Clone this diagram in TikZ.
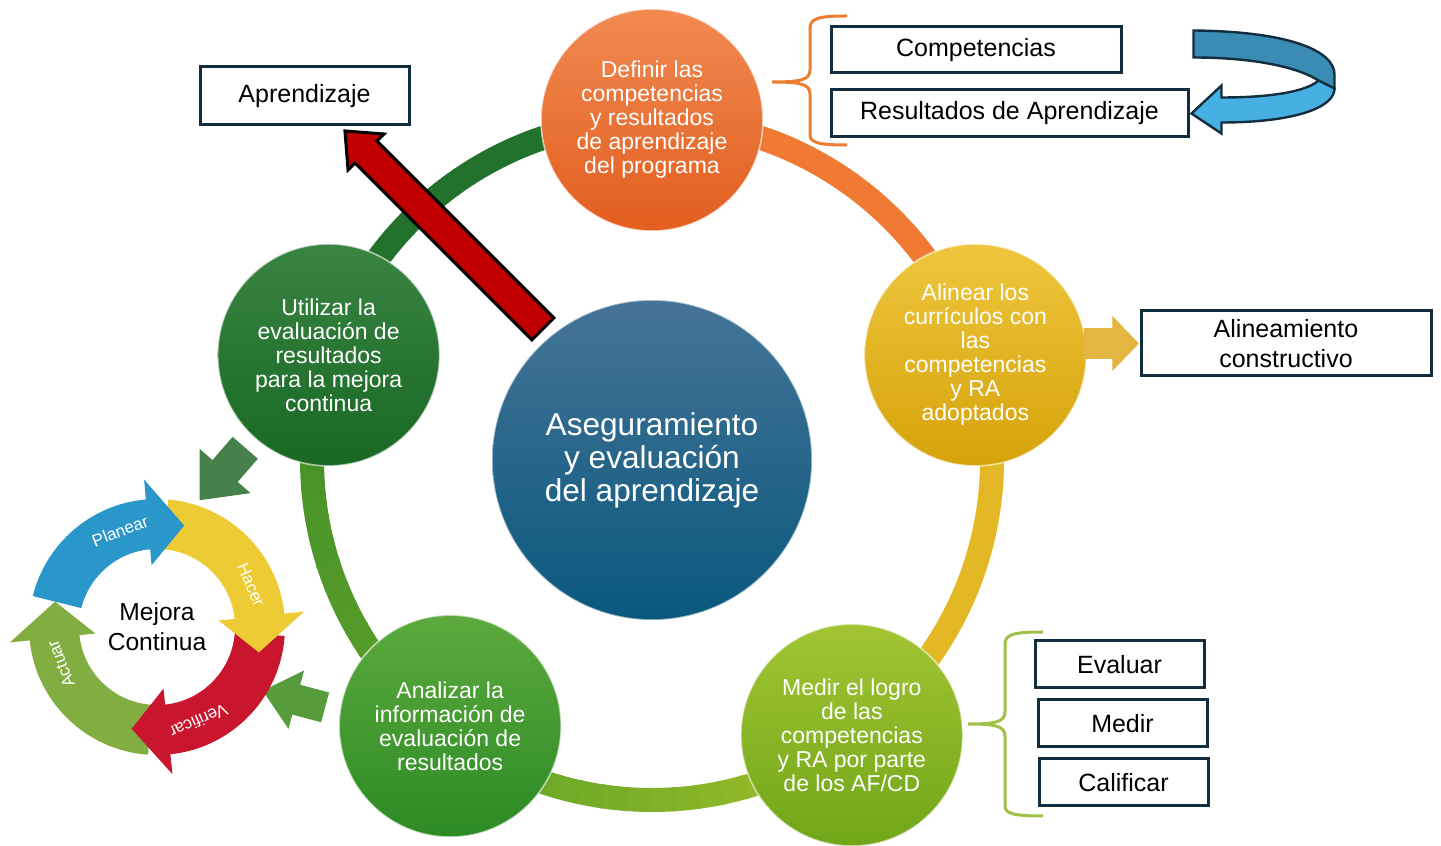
\documentclass[tikz,border=0pt]{standalone}
\usepackage{fontspec}
\setmainfont{Liberation Sans}
\usetikzlibrary{calc,shapes.arrows}

\definecolor{boxline}{RGB}{18,45,62}
\definecolor{coreT}{RGB}{68,116,150}
\definecolor{coreB}{RGB}{10,88,126}
\definecolor{defT}{RGB}{241,138,82}
\definecolor{defB}{RGB}{226,94,30}
\definecolor{aliT}{RGB}{238,198,62}
\definecolor{aliB}{RGB}{214,163,10}
\definecolor{medT}{RGB}{162,197,52}
\definecolor{medB}{RGB}{112,166,24}
\definecolor{anaT}{RGB}{92,170,62}
\definecolor{anaB}{RGB}{44,138,36}
\definecolor{utiT}{RGB}{58,132,66}
\definecolor{utiB}{RGB}{24,104,36}
\definecolor{ringorange}{RGB}{240,122,52}
\definecolor{ringgold}{RGB}{228,184,36}
\definecolor{ringlime}{RGB}{160,190,40}
\definecolor{ringgreen}{RGB}{90,162,40}
\definecolor{ringleft}{RGB}{66,140,42}
\definecolor{ringdark}{RGB}{34,114,46}
\definecolor{arrowred}{RGB}{192,0,0}
\definecolor{arrowgold}{RGB}{226,182,64}
\definecolor{arrowdkgreen}{RGB}{70,128,75}
\definecolor{arrowgreen}{RGB}{86,156,60}
\definecolor{turndark}{RGB}{58,140,180}
\definecolor{turnlight}{RGB}{70,176,226}
\definecolor{braceorange}{RGB}{237,125,49}
\definecolor{bracegreen}{RGB}{160,192,72}
\definecolor{pdcablue}{RGB}{42,151,203}
\definecolor{pdcayellow}{RGB}{236,203,53}
\definecolor{pdcared}{RGB}{201,22,46}
\definecolor{pdcagreen}{RGB}{130,174,65}

\begin{document}
\begin{tikzpicture}[
    x=0.5pt, y=0.5pt,
    core/.style={circle, minimum size=160pt, inner sep=0pt, align=center, text=white,
      font=\fontsize{15.8}{16.5}\selectfont, draw=white, draw opacity=0.5, line width=0.8pt},
    stepnode/.style={circle, minimum size=111pt, inner sep=0pt, align=center, text=white,
      font=\fontsize{11.5}{12}\selectfont, draw=white, draw opacity=0.6, line width=0.8pt},
    infobox/.style={draw=boxline, line width=1.5pt, fill=white, inner sep=0pt, align=center,
      font=\fontsize{12.5}{15}\selectfont},
    ringseg/.style={line width=12pt},
    blockarrow/.style={single arrow, inner sep=0pt, single arrow tip angle=82},
    bracket/.style={line width=1.5pt},
    pdcalabel/.style={text=white, font=\fontsize{8.5}{9}\selectfont}
    ]
  \useasboundingbox (0,0) rectangle (1441,846);

  \node[core, top color=coreT, bottom color=coreB] (core) at (652,386)
    {Aseguramiento\\y evaluación\\del aprendizaje};

  \draw[ringseg, ringorange] ($(core)+(90:340)$) arc[start angle=90, end angle=18, radius=340];
  \draw[ringseg, ringgold] ($(core)+(18:340)$) arc[start angle=18, end angle=-54, radius=340];
  \foreach \a in {-54,-58,...,-122}{
    \pgfmathsetmacro\p{(\a+126)/72*100}
    \draw[ringseg, ringlime!\p!ringgreen] ($(core)+(\a:340)$) arc[start angle=\a, end angle=\a-4.5, radius=340];
  }
  \foreach \a in {-126,-130,...,-194}{
    \pgfmathsetmacro\p{(\a+198)/72*100}
    \draw[ringseg, ringgreen!\p!ringleft] ($(core)+(\a:340)$) arc[start angle=\a, end angle=\a-4.5, radius=340];
  }
  \draw[ringseg, ringdark] ($(core)+(162:340)$) arc[start angle=162, end angle=90, radius=340];

  \node[stepnode, top color=defT, bottom color=defB] (def) at ($(core)+(90:340)$)
    {Definir las\\competencias\\y resultados\\de aprendizaje\\del programa};
  \node[stepnode, top color=aliT, bottom color=aliB] (ali) at ($(core)+(18:340)$)
    {Alinear los\\currículos con\\las\\competencias\\y RA\\adoptados};
  \node[stepnode, top color=medT, bottom color=medB] (med) at ($(core)+(-54:340)$)
    {Medir el logro\\de las\\competencias\\y RA por parte\\de los AF/CD};
  \node[stepnode, top color=anaT, bottom color=anaB] (ana) at ($(core)+(-126:340)+(-2,9)$)
    {Analizar la\\información de\\evaluación de\\resultados};
  \node[stepnode, top color=utiT, bottom color=utiB] (uti) at ($(core)+(162:340)$)
    {Utilizar la\\evaluación de\\resultados\\para la mejora\\continua};

  \node[infobox, minimum width=104.5pt, minimum height=29pt] (apr) at (304.5,750) {Aprendizaje};
  \node[infobox, minimum width=145pt, minimum height=23pt] (comp) at (976,796) {Competencias};
  \node[infobox, minimum width=178.5pt, minimum height=23.5pt] (res) at (1009.5,732.5) {Resultados de Aprendizaje};
  \node[infobox, minimum width=145pt, minimum height=32.5pt] (alin) at (1286,502.5) {Alineamiento\\constructivo};
  \node[infobox, minimum width=84.5pt, minimum height=23.5pt] (eva) at (1119.5,181.5) {Evaluar};
  \node[infobox, minimum width=84.5pt, minimum height=23.5pt] (mdr) at (1122.5,122.5) {Medir};
  \node[infobox, minimum width=84.5pt, minimum height=23.5pt] (cal) at (1123.5,63.5) {Calificar};

  \node[blockarrow, fill=arrowred, draw=black, line width=1.5pt, rotate=135, anchor=tail,
    minimum height=140pt, inner ysep=7pt, single arrow head extend=5pt, single arrow tip angle=81]
    (toapr) at (544,516) {};
  \node[blockarrow, fill=arrowgold, anchor=tip, minimum height=27.5pt, inner ysep=7.5pt,
    single arrow head extend=6pt, single arrow tip angle=92] (toalin) at (alin.west) {};
  \node[blockarrow, fill=arrowdkgreen, rotate=229, anchor=tail, minimum height=34.75pt,
    inner ysep=8.15pt, single arrow head extend=8.5pt] (touti) at (245.5,398.5) {};
  \node[blockarrow, fill=arrowgreen, rotate=165, anchor=tail, minimum height=32.3pt,
    inner ysep=7.5pt, single arrow head extend=7.4pt] (toana) at (325.5,138.5) {};

  \begin{scope}[shift={(res.east)}]
    \filldraw[draw=boxline, line width=1.2pt, fill=turndark] (4,83) .. controls (102,82) and (145,62) .. (145,39)
      -- (145,25) -- (129,33) .. controls (107,47) and (62,56) .. (4,56) -- cycle;
    \filldraw[draw=boxline, line width=1.2pt, fill=turnlight] (129,33) -- (145,25) .. controls (145,5) and (102,-9) .. (32,-9)
      -- (32,-20) -- (2,0) -- (32,28) -- (32,16) .. controls (82,16) and (117,22) .. (129,33) -- cycle;
  \end{scope}

  \draw[bracket, braceorange] (847,830) .. controls (820,830) and (810,828) .. (810,818) -- (810,776)
    .. controls (810,766) and (800,764) .. (772,764) .. controls (800,764) and (810,762) .. (810,752)
    -- (810,711) .. controls (810,703) and (820,701) .. (847,701);
  \draw[bracket, bracegreen] (1043,214) .. controls (1015,214) and (1005,212) .. (1005,202) -- (1005,134)
    .. controls (1005,124) and (995,122) .. (968,122) .. controls (995,122) and (1005,120) .. (1005,110)
    -- (1005,40) .. controls (1005,32) and (1015,30) .. (1043,30);

  \begin{scope}[shift={(157,219)}]
    \foreach \t/\b/\col in {-94/-174/pdcagreen, -4/-84/pdcared, 85/6/pdcayellow, 166/95/pdcablue}
      \fill[\col] (\t:128) arc[start angle=\t, end angle=\b, radius=128] -- (\b:148) -- ({\b-20}:105)
        -- (\b:62) -- (\b:78) arc[start angle=\b, end angle=\t, radius=78] -- cycle;
    \node[align=center, font=\fontsize{12.3}{15}\selectfont] (mejora) at (0,0) {Mejora\\Continua};
    \node[pdcalabel, rotate=21] (planear) at (111:103) {Planear};
    \node[pdcalabel, rotate=-66] (hacer) at (24:103) {Hacer};
    \node[pdcalabel, rotate=-156] (verificar) at (-66:103) {Verificar};
    \node[pdcalabel, rotate=111] (actuar) at (201:103) {Actuar};
  \end{scope}
\end{tikzpicture}
\end{document}
